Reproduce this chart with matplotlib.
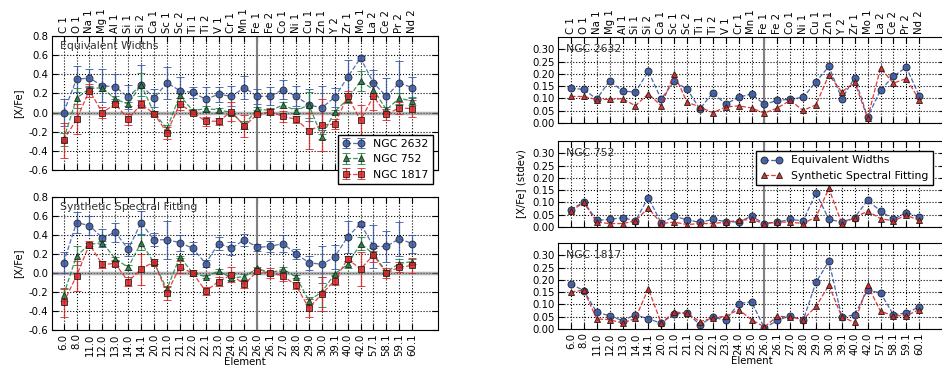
import numpy as np
import matplotlib
matplotlib.use('Agg')
import matplotlib.pyplot as plt

# element names (top axis) and codes (bottom axis)
elements = ['C 1', 'O 1', 'Na 1', 'Mg 1', 'Al 1', 'Si 1', 'Si 2', 'Ca 1', 'Sc 1', 'Sc 2',
            'Ti 1', 'Ti 2', 'V 1', 'Cr 1', 'Mn 1', 'Fe 1', 'Fe 2', 'Co 1', 'Ni 1', 'Cu 1',
            'Zn 1', 'Y 2', 'Zr 1', 'Mo 1', 'La 2', 'Ce 2', 'Pr 2', 'Nd 2']
codes = ['6.0', '8.0', '11.0', '12.0', '13.0', '14.0', '14.1', '20.0', '21.0', '21.1',
         '22.0', '22.1', '23.0', '24.0', '25.0', '26.0', '26.1', '27.0', '28.0', '29.0',
         '30.0', '39.1', '40.0', '42.0', '57.1', '58.1', '59.1', '60.1']

# [X/Fe] from equivalent widths
ew_2632 = [0.00, 0.35, 0.36, 0.28, 0.27, 0.16, 0.29, 0.15, 0.31, 0.23, 0.21, 0.14, 0.19, 0.17,
           0.26, 0.17, 0.17, 0.24, 0.17, 0.08, 0.05, 0.16, 0.37, 0.57, 0.31, 0.17, 0.31, 0.26]
ew_752 = [-0.28, 0.15, 0.25, 0.26, 0.14, 0.09, 0.29, 0.00, -0.17, 0.18, 0.02, 0.04, 0.03, 0.00,
          -0.13, 0.04, 0.02, 0.08, 0.02, 0.08, -0.25, 0.01, 0.14, 0.33, 0.24, 0.03, 0.15, 0.12]
ew_1817 = [-0.29, -0.07, 0.23, 0.00, 0.09, -0.07, 0.09, -0.01, -0.21, 0.09, 0.00, -0.09, -0.09, 0.01,
           -0.14, -0.02, 0.01, -0.04, -0.07, -0.19, -0.13, -0.12, 0.17, -0.08, 0.17, -0.02, 0.05, 0.04]

# [X/Fe] from synthetic spectral fitting
ssf_2632 = [0.11, 0.53, 0.50, 0.37, 0.43, 0.25, 0.53, 0.35, 0.35, 0.32, 0.26, 0.10, 0.31, 0.26,
            0.35, 0.27, 0.28, 0.31, 0.20, 0.11, 0.09, 0.17, 0.38, 0.52, 0.28, 0.28, 0.36, 0.31]
ssf_752 = [-0.23, 0.18, 0.30, 0.32, 0.15, 0.06, 0.32, 0.11, -0.17, 0.17, 0.00, -0.04, 0.02, -0.05,
           -0.04, 0.05, 0.00, 0.04, -0.04, -0.29, -0.20, -0.01, 0.09, 0.31, 0.20, 0.01, 0.10, 0.12]
ssf_1817 = [-0.31, -0.03, 0.30, 0.09, 0.10, -0.09, 0.04, 0.12, -0.21, 0.06, 0.00, -0.19, -0.09, -0.02,
            -0.12, 0.02, 0.00, -0.03, -0.13, -0.37, -0.22, -0.08, 0.15, 0.04, 0.19, 0.00, 0.06, 0.08]

# standard deviations
sd_ew_2632 = [0.141, 0.137, 0.097, 0.172, 0.130, 0.126, 0.210, 0.097, 0.170, 0.138, 0.057, 0.123, 0.077, 0.105,
              0.118, 0.076, 0.092, 0.097, 0.104, 0.168, 0.230, 0.099, 0.184, 0.024, 0.134, 0.190, 0.227, 0.111]
sd_ssf_2632 = [0.108, 0.108, 0.095, 0.096, 0.099, 0.070, 0.119, 0.070, 0.200, 0.085, 0.065, 0.042, 0.065, 0.070,
               0.061, 0.040, 0.061, 0.092, 0.051, 0.074, 0.196, 0.126, 0.166, 0.020, 0.223, 0.162, 0.181, 0.095]
sd_ew_752 = [0.071, 0.102, 0.027, 0.031, 0.038, 0.025, 0.120, 0.016, 0.044, 0.029, 0.019, 0.031, 0.022, 0.020,
             0.044, 0.014, 0.020, 0.031, 0.025, 0.139, 0.031, 0.020, 0.038, 0.109, 0.065, 0.031, 0.059, 0.041]
sd_ssf_752 = [0.065, 0.100, 0.020, 0.014, 0.014, 0.025, 0.078, 0.014, 0.020, 0.010, 0.014, 0.014, 0.020, 0.027,
              0.031, 0.014, 0.020, 0.020, 0.014, 0.041, 0.157, 0.014, 0.038, 0.065, 0.034, 0.025, 0.048, 0.027]
sd_ew_1817 = [0.183, 0.156, 0.068, 0.054, 0.034, 0.058, 0.041, 0.024, 0.061, 0.065, 0.018, 0.048, 0.036, 0.103,
              0.111, 0.004, 0.035, 0.054, 0.035, 0.190, 0.276, 0.048, 0.058, 0.158, 0.147, 0.058, 0.065, 0.090]
sd_ssf_1817 = [0.151, 0.158, 0.041, 0.038, 0.024, 0.043, 0.164, 0.024, 0.069, 0.065, 0.030, 0.045, 0.052, 0.079,
               0.038, 0.008, 0.052, 0.049, 0.038, 0.092, 0.178, 0.049, 0.027, 0.178, 0.072, 0.054, 0.054, 0.079]

FS = 7.3
plt.rcParams['font.family'] = 'DejaVu Sans'
plt.rcParams['font.size'] = FS

blue = '#3456a6'
green = '#1e8040'
red = '#dd2222'
MS = 5

x = np.arange(len(elements))
fe_idx = elements.index('Fe 1')

W, H = 942.0, 369.0


def px_axes(fig, left, top, width, height):
    return fig.add_axes([left / W, 1 - (top + height) / H, width / W, height / H])


def style(ax, xlim, top_labels, bottom_labels):
    ax.set_xlim(*xlim)
    ax.set_xticks(x)
    ax.tick_params(direction='in', top=True, right=True, length=4, labelsize=FS, pad=2.5)
    ax.tick_params(axis='x', labeltop=top_labels, labelbottom=bottom_labels, rotation=90)
    if bottom_labels:
        ax.set_xticklabels(codes)
    else:
        ax.set_xticklabels(elements)
    ax.grid(True, linestyle=':', color='k', linewidth=0.8)
    ax.set_axisbelow(True)
    ax.axvline(fe_idx, color='gray', linewidth=1.5, zorder=1)


def cluster_plot(ax, vals, errs, color, marker, label):
    ax.errorbar(x, vals, yerr=errs, fmt=marker, color=color, ls='--', lw=0.9, alpha=0.85,
                capsize=2.8, elinewidth=0.9, ms=MS, mec='#222222', mew=0.7, mfc=color, label=label)


fig = plt.figure(figsize=(W / 100, H / 100), dpi=100)

# left: abundances
ax1 = px_axes(fig, 52, 36, 386, 134)
ax2 = px_axes(fig, 52, 197, 386, 133)
for ax, data, name in [(ax1, [ew_2632, ew_752, ew_1817], 'Equivalent Widths'),
                       (ax2, [ssf_2632, ssf_752, ssf_1817], 'Synthetic Spectral Fitting')]:
    if ax is ax1:
        errs = [sd_ew_2632, sd_ew_752, sd_ew_1817]
    else:
        errs = [sd_ssf_2632, sd_ssf_752, sd_ssf_1817]
    ax.axhline(0, color='gray', linewidth=2.5, alpha=0.6, zorder=1)
    cluster_plot(ax, data[0], errs[0], blue, 'o', 'NGC 2632')
    cluster_plot(ax, data[1], errs[1], green, '^', 'NGC 752')
    cluster_plot(ax, data[2], errs[2], red, 's', 'NGC 1817')
    style(ax, (-0.9, 29), ax is ax1, ax is ax2)
    ax.set_ylim(-0.6, 0.8)
    ax.set_yticks(np.arange(-0.6, 0.81, 0.2))
    ax.set_yticklabels(['%.1f' % v for v in np.arange(-0.6, 0.81, 0.2)])
    ax.set_ylabel('[X/Fe]', fontsize=FS)
    ax.text(0.02, 0.96, name, transform=ax.transAxes, ha='left', va='top', fontsize=FS + 0.5, color='#333333')
ax2.set_xlabel('Element', fontsize=FS, labelpad=1)
ax1.legend(loc='lower right', bbox_to_anchor=(1.0, -0.145), numpoints=2, fontsize=FS + 0.5,
           fancybox=False, edgecolor='k', framealpha=1, borderpad=0.4, handlelength=2.0)

# right: scatter of the measurements
ax3 = px_axes(fig, 558, 37, 387, 86)
ax4 = px_axes(fig, 558, 141, 387, 86)
ax5 = px_axes(fig, 558, 243, 387, 86)
right = [(ax3, sd_ew_2632, sd_ssf_2632, 'NGC 2632'),
         (ax4, sd_ew_752, sd_ssf_752, 'NGC 752'),
         (ax5, sd_ew_1817, sd_ssf_1817, 'NGC 1817')]
for ax, ew, ssf, name in right:
    ax.plot(x, ew, 'o--', color=blue, ms=MS, mec='#222222', mew=0.7, lw=0.9, alpha=0.9,
            label='Equivalent Widths')
    ax.plot(x, ssf, '^--', color=red, ms=MS, mec='#222222', mew=0.7, lw=0.9, alpha=0.9,
            label='Synthetic Spectral Fitting')
    style(ax, (-1, 29), ax is ax3, ax is ax5)
    ax.set_ylim(0, 0.35)
    ax.set_yticks(np.arange(0, 0.31, 0.05))
    ax.set_yticklabels(['%.2f' % v for v in np.arange(0, 0.31, 0.05)])
    ax.text(0.02, 0.92, name, transform=ax.transAxes, ha='left', va='top', fontsize=FS + 0.5, color='#333333')
    if ax is not ax3 and ax is not ax5:
        ax.tick_params(axis='x', labeltop=False, labelbottom=False)
ax4.set_ylabel('[X/Fe] (stdev)', fontsize=FS)
ax5.set_xlabel('Element', fontsize=FS, labelpad=1)
ax4.legend(loc='upper right', bbox_to_anchor=(0.982, 0.945), numpoints=2, fontsize=FS + 0.5,
           fancybox=False, edgecolor='k', framealpha=1, borderpad=0.4, handlelength=2.0)

plt.savefig('out.png', dpi=100)
